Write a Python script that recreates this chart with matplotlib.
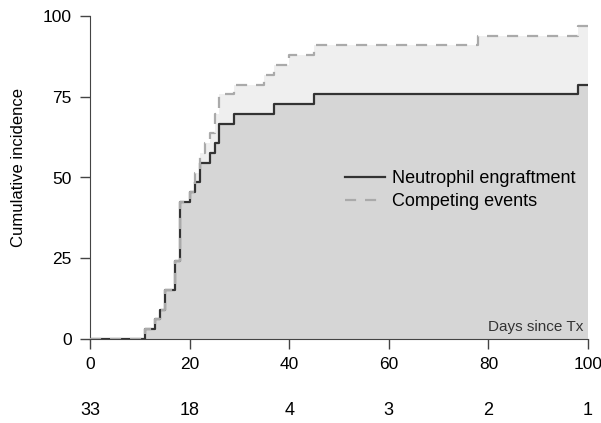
import numpy as np
import matplotlib
matplotlib.use("Agg")
import matplotlib.pyplot as plt

plt.rcParams['font.family'] = ['Liberation Sans', 'DejaVu Sans']

# 患者数 33 人、イベント数 (累積) を日ごとに読む
n_patients = 33
neut_days = [0, 11, 13, 14, 15, 17, 18, 20, 21, 22, 24, 25, 26, 29, 37, 45, 98, 100]
neut_count = [0, 1, 2, 3, 5, 8, 14, 15, 16, 18, 19, 20, 22, 23, 24, 25, 26, 26]
comp_days = [0, 11, 13, 14, 15, 17, 18, 20, 21, 22, 23, 24, 25, 26, 29, 35, 37, 40, 45, 78, 98, 100]
comp_count = [0, 1, 2, 3, 5, 8, 14, 15, 17, 19, 20, 21, 23, 25, 26, 27, 28, 29, 30, 31, 32, 32]

x_ticks = [0, 20, 40, 60, 80, 100]
y_ticks = [0, 25, 50, 75, 100]
at_risk = [33, 18, 4, 3, 2, 1]

neut = 100 * np.array(neut_count) / n_patients
comp = 100 * np.array(comp_count) / n_patients

# 共通の x グリッドで塗りつぶし
grid = np.unique(np.concatenate([neut_days, comp_days]))
neut_g = neut[np.searchsorted(neut_days, grid, side='right') - 1]
comp_g = comp[np.searchsorted(comp_days, grid, side='right') - 1]

fig = plt.figure(figsize=(6.01, 4.23), dpi=100)
ax = fig.add_axes([90 / 601, 84 / 423, 498 / 601, 323 / 423])

ax.fill_between(grid, 0, neut_g, step='post', color='#d6d6d6', lw=0)
ax.fill_between(grid, neut_g, comp_g, step='post', color='#efefef', lw=0)

ax.step(neut_days, neut, where='post', color='#333333', lw=1.6,
        label='Neutrophil engraftment', zorder=3)
ax.step(comp_days, comp, where='post', color='#aaaaaa', lw=1.6,
        dashes=(5, 4), label='Competing events', zorder=4)

ax.set_xlim(0, 100)
ax.set_ylim(0, 100)
ax.set_xticks(x_ticks)
ax.set_yticks(y_ticks)
ax.tick_params(labelsize=12.5, length=7, width=1, color='#444444', pad=6)
for side in ['top', 'right']:
    ax.spines[side].set_visible(False)
for side in ['left', 'bottom']:
    ax.spines[side].set_color('#444444')
    ax.spines[side].set_clip_on(False)

ax.set_ylabel('Cumulative incidence', fontsize=12)
ax.yaxis.set_label_coords(-0.128, 0.53)
ax.text(0.99, 0.037, 'Days since Tx', transform=ax.transAxes,
        ha='right', va='center', fontsize=11, color='#333333')

# リスク数
for xv, n in zip(x_ticks, at_risk):
    ax.text(xv, -0.22, str(n), transform=ax.get_xaxis_transform(),
            ha='center', va='center', fontsize=13, clip_on=False)

ax.legend(loc='center left', bbox_to_anchor=(0.512, 0.461), frameon=False,
          fontsize=13, borderpad=0, borderaxespad=0, handlelength=2.2,
          handletextpad=0.4, labelspacing=0.35)

fig.savefig('out.png', dpi=100)
